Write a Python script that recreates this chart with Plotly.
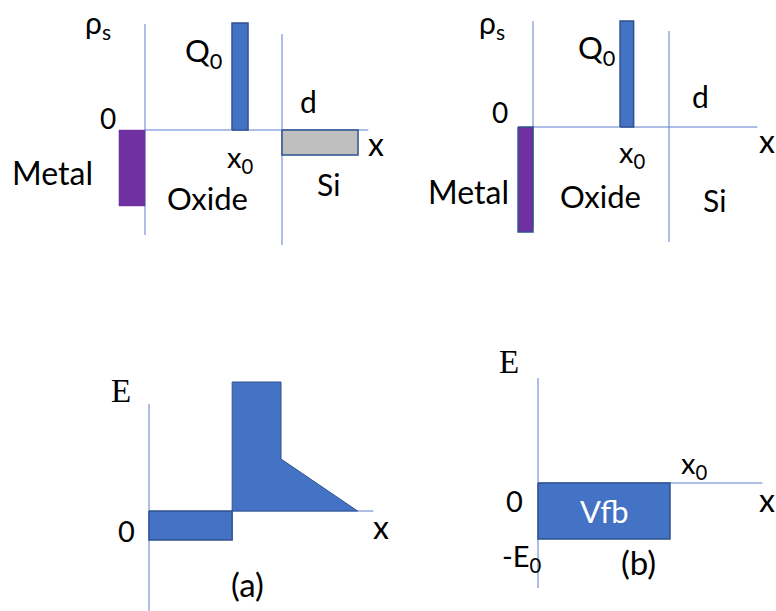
import plotly.graph_objects as go

W, H = 776, 611

# ---------------- data (x in units of oxide thickness d, charge / field in arbitrary units)
# (a) top: charge density with mobile charge in Si
a_metal_x = [-0.19, 0.0]
a_metal_rho = -0.76
a_q0_x = [0.635, 0.752]
a_q0_rho = 1.07
a_si_x = [1.0, 1.555]
a_si_rho = -0.25
a_axis_end = 1.63

# (b) top: charge density, all image charge in metal
b_metal_x = [-0.11, 0.0]
b_metal_rho = -1.05
b_q0_x = [0.64, 0.74]
b_q0_rho = 1.06
b_axis_end = 1.65

# (a) bottom: electric field profile
ea_x0 = 0.63          # sheet charge position
ea_d = 1.0            # oxide / Si interface
ea_w = 1.58           # end of depletion in Si
ea_oxide_left = -0.29
ea_oxide_right = 1.29
ea_si_surface = 0.52
ea_axis_end = 1.70

# (b) bottom: electric field profile
eb_x0 = 1.0
eb_field = -0.56
eb_axis_end = 1.70

# ---------------- colours
AXIS = "#5b7fcc"
BLUE = "#4472C4"
EDGE = "#2F528F"
PURPLE = "#7030A0"
GREY = "#BFBFBF"
FONT = "Lato"

# panel layout: (pixel box L,R,T,B), origin pixel, pixels per unit
panels = {
    "1": dict(box=(0, 388, 0, 300), origin=(145, 130), scale=(137, 100)),
    "2": dict(box=(388, 776, 0, 300), origin=(533, 127), scale=(136, 100)),
    "3": dict(box=(0, 388, 300, 611), origin=(149, 511), scale=(132, 100)),
    "4": dict(box=(388, 776, 300, 611), origin=(538, 483), scale=(132, 100)),
}

fig = go.Figure()
layout_axes = {}
for k, p in panels.items():
    L, R, T, B = p["box"]
    ox, oy = p["origin"]
    sx, sy = p["scale"]
    xn = "xaxis" if k == "1" else f"xaxis{k}"
    yn = "yaxis" if k == "1" else f"yaxis{k}"
    layout_axes[xn] = dict(domain=[L / W, R / W], range=[(L - ox) / sx, (R - ox) / sx],
                           visible=False, anchor="y" if k == "1" else f"y{k}")
    layout_axes[yn] = dict(domain=[1 - B / H, 1 - T / H], range=[(oy - B) / sy, (oy - T) / sy],
                           visible=False, anchor="x" if k == "1" else f"x{k}")


def ax(k):
    return ("x", "y") if k == "1" else (f"x{k}", f"y{k}")


def lines(k, segs):
    xs, ys = [], []
    for (x1, y1, x2, y2) in segs:
        xs += [x1, x2, None]
        ys += [y1, y2, None]
    xa, ya = ax(k)
    fig.add_trace(go.Scatter(x=xs, y=ys, mode="lines", xaxis=xa, yaxis=ya,
                             line=dict(color=AXIS, width=1), hoverinfo="skip"))


def rect(k, xr, v, fill, edge, ew=1.5):
    xa, ya = ax(k)
    fig.add_trace(go.Scatter(x=[xr[0], xr[1], xr[1], xr[0], xr[0]], y=[0, 0, v, v, 0],
                             mode="lines", fill="toself", fillcolor=fill, xaxis=xa, yaxis=ya,
                             line=dict(color=edge, width=ew), hoverinfo="skip"))


# panel 1
lines("1", [(0, 1.06, 0, -1.05), (1.0, 0.96, 1.0, -1.15), (0, 0, a_axis_end, 0)])
rect("1", a_metal_x, a_metal_rho, PURPLE, PURPLE, 0.5)
rect("1", a_q0_x, a_q0_rho, BLUE, EDGE)
rect("1", a_si_x, a_si_rho, GREY, EDGE)

# panel 2
lines("2", [(0, 1.06, 0, -1.0), (1.0, 0.96, 1.0, -1.15), (0, 0, b_axis_end, 0)])
rect("2", b_metal_x, b_metal_rho, PURPLE, EDGE)
rect("2", b_q0_x, b_q0_rho, BLUE, EDGE)

# panel 3
lines("3", [(0, 1.07, 0, -1.0), (ea_x0, 0, ea_axis_end, 0)])
rect("3", [0, ea_x0], ea_oxide_left, BLUE, EDGE)
fig.add_trace(go.Scatter(
    x=[ea_x0, ea_x0, ea_d, ea_d, ea_w, ea_x0],
    y=[0, ea_oxide_right, ea_oxide_right, ea_si_surface, 0, 0],
    mode="lines", fill="toself", fillcolor=BLUE, xaxis="x3", yaxis="y3",
    line=dict(color=EDGE, width=1), hoverinfo="skip"))

# panel 4
lines("4", [(0, 1.05, 0, -1.05), (0, 0, eb_axis_end, 0)])
rect("4", [0, eb_x0], eb_field, BLUE, EDGE)


# ---------------- labels (pixel placement)
def label(text, x, y, size=30, family=FONT, color="black"):
    fig.add_annotation(text=text, x=x / W, y=1 - y / H, xref="paper", yref="paper",
                       showarrow=False, xanchor="center", yanchor="middle",
                       font=dict(size=size, family=family, color=color))


label("ρ<sub>s</sub>", 98, 24, 30)
label("Q<sub>0</sub>", 203, 52, 31)
label("d", 308, 101, 30)
label("0", 108, 118, 28)
label("x", 376, 144, 32)
label("x<sub>0</sub>", 240, 158, 29)
label("Metal", 53, 173, 32)
label("Oxide", 207, 198, 31)
label("Si", 328, 184, 30)

label("ρ<sub>s</sub>", 492, 24, 30)
label("Q<sub>0</sub>", 596, 49, 31)
label("d", 700, 96, 30)
label("0", 500, 112, 28)
label("x", 767, 140, 32)
label("x<sub>0</sub>", 632, 153, 29)
label("Metal", 468, 191, 32)
label("Oxide", 600, 196, 31)
label("Si", 714, 200, 30)

label("E", 121, 391, 33, "Liberation Serif")
label("0", 126, 530, 29)
label("x", 381, 526, 32)
label("(a)", 248, 584, 33)

label("E", 509, 362, 33, "Liberation Serif")
label("x<sub>0</sub>", 694, 464, 29)
label("0", 514, 500, 29)
label("x", 767, 499, 32)
label("Vfb", 604, 511, 31, color="white")
label("-E<sub>0</sub>", 522, 557, 29)
label("(b)", 638, 562, 33)

fig.update_layout(width=W, height=H, margin=dict(l=0, r=0, t=0, b=0),
                  paper_bgcolor="white", plot_bgcolor="rgba(0,0,0,0)",
                  showlegend=False, **layout_axes)

fig.write_html("out.html")
